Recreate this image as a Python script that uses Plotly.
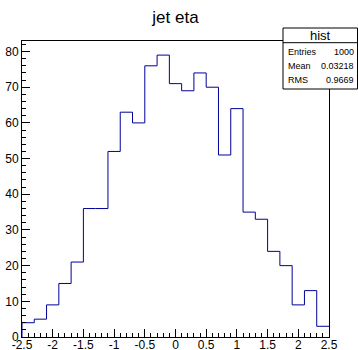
import plotly.graph_objects as go

# ---- data ----
x_min, x_max, n_bins = -2.5, 2.5, 25
counts = [4, 5, 9, 15, 21, 36, 36, 52, 63, 60, 76, 79, 71, 69, 74, 70,
          51, 64, 35, 33, 24, 20, 9, 13, 3]
x_tick_vals = [-2.5, -2, -1.5, -1, -0.5, 0, 0.5, 1, 1.5, 2, 2.5]
x_tick_text = ["-2.5", "-2", "-1.5", "-1", "-0.5", "0", "0.5", "1", "1.5", "2", "2.5"]
title = "jet eta"
stats_name = "hist"
stats_labels = ["Entries", "Mean", "RMS"]
stats_values = ["1000", "0.03218", "0.9669"]

width = (x_max - x_min) / n_bins
edges = [x_min + i * width for i in range(n_bins + 1)]
xs = [edges[0]] + edges
ys = [0] + counts + [counts[-1]]

fig = go.Figure()
fig.add_trace(go.Scatter(x=xs, y=ys, mode="lines", line_shape="hv",
                         line=dict(color="#000099", width=1),
                         hoverinfo="skip", showlegend=False))

font = "Liberation Sans, Arial, sans-serif"
fig.update_layout(
    width=358, height=350,
    margin=dict(l=22, r=29, t=41, b=13, autoexpand=False),
    paper_bgcolor="white", plot_bgcolor="white",
    font=dict(family=font, color="black"),
    title=dict(text=title, x=175.5 / 358, xanchor="center", y=1 - 17 / 350,
               yanchor="middle", font=dict(size=17, family=font)),
    xaxis=dict(range=[x_min, x_max], tickmode="array", tickvals=x_tick_vals,
               ticktext=x_tick_text, ticks="inside",
               ticklen=8, tickcolor="black", tickwidth=1,
               minor=dict(tick0=-2.5, dtick=0.1, ticks="inside", ticklen=4,
                          tickcolor="black"),
               showline=True, linecolor="black", linewidth=1, mirror=True,
               showgrid=False, zeroline=False, automargin=False, tickangle=0,
               tickfont=dict(size=12), ticklabelstandoff=-3),
    yaxis=dict(range=[0, max(counts) * 1.05], dtick=10, ticks="inside",
               ticklen=8, tickcolor="black", tickwidth=1,
               minor=dict(dtick=2, ticks="inside", ticklen=4, tickcolor="black"),
               showline=True, linecolor="black", linewidth=1, mirror=True,
               showgrid=False, zeroline=False, automargin=False,
               tickfont=dict(size=12)),
)

# stats box
px = lambda p: (p - 22) / 307
py = lambda p: (337 - p) / 296
fig.add_shape(type="rect", xref="paper", yref="paper",
              x0=px(283), x1=px(357.5), y0=py(89), y1=py(28),
              fillcolor="white", line=dict(color="black", width=1), layer="above")
fig.add_shape(type="line", xref="paper", yref="paper",
              x0=px(283), x1=px(357.5), y0=py(42.7), y1=py(42.7),
              line=dict(color="black", width=1), layer="above")
fig.add_annotation(xref="paper", yref="paper", x=px(320), y=py(35.5),
                   text=stats_name, showarrow=False, xanchor="center",
                   yanchor="middle", font=dict(size=13, family=font))
for i, (lab, val) in enumerate(zip(stats_labels, stats_values)):
    yy = py(51.7 + i * 14.2)
    fig.add_annotation(xref="paper", yref="paper", x=px(286), y=yy, text=lab,
                       showarrow=False, xanchor="left", yanchor="middle",
                       font=dict(size=9, family=font))
    fig.add_annotation(xref="paper", yref="paper", x=px(356), y=yy, text=val,
                       showarrow=False, xanchor="right", yanchor="middle",
                       font=dict(size=9, family=font))

fig.write_html("out.html")
